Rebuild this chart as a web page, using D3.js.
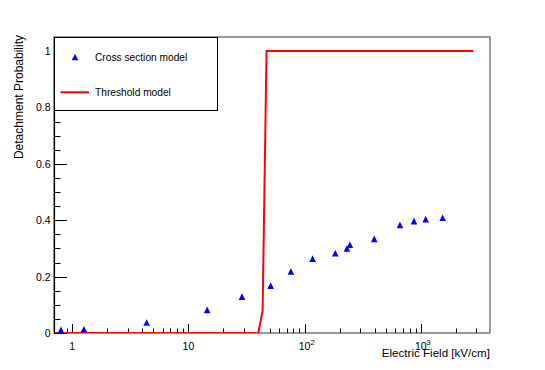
<!DOCTYPE html>
<html>
<head>
<meta charset="utf-8">
<script src="https://cdnjs.cloudflare.com/ajax/libs/d3/7.8.5/d3.min.js"></script>
<style>
  body { margin: 0; background: #fff; }
  text { font-family: "Liberation Sans", Arial, sans-serif; fill: #000; }
</style>
</head>
<body>
<div id="chart"></div>
<script>
// cross section model points (electric field in kV/cm, probability)
var crossField = [0.8, 1.26, 4.37, 14.5, 28.9, 51, 76.2, 117, 183.5, 231, 245, 397, 661, 873, 1100, 1540];
var crossProb  = [0.011, 0.0135, 0.037, 0.082, 0.129, 0.168, 0.218, 0.264, 0.283, 0.300, 0.313, 0.334, 0.383, 0.397, 0.404, 0.409];

// threshold model (step)
var thrField = [0.7, 40, 43.5, 47, 2830];
var thrProb  = [0, 0, 0.08, 1, 1];

var xMajor = [1, 10, 100, 1000];
var xLabels = [["1", ""], ["10", ""], ["10", "2"], ["10", "3"]];
var yMajor = [0, 0.2, 0.4, 0.6, 0.8, 1];
var yLabels = ["0", "0.2", "0.4", "0.6", "0.8", "1"];

var svgWidth = 545, svgHeight = 370;
var pLeft = 54, pRight = 490, pTop = 37, pBottom = 333;

var svg = d3.select('#chart')
    .append('svg')
    .attr('width', svgWidth)
    .attr('height', svgHeight);

var x = d3.scaleLog().domain([0.697, 3935]).range([pLeft, pRight]);
var y = d3.scaleLinear().domain([0, 1.05]).range([pBottom, pTop]);

svg.append('clipPath').attr('id', 'clip')
    .append('rect')
    .attr('x', pLeft).attr('y', pTop)
    .attr('width', pRight - pLeft).attr('height', pBottom - pTop);

// frame
svg.append('rect')
    .attr('x', pLeft).attr('y', pTop)
    .attr('width', pRight - pLeft).attr('height', pBottom - pTop)
    .attr('fill', 'none')
    .attr('stroke', '#7a7a7a')
    .attr('stroke-width', 1.5);

// x minor ticks 2..9 per decade
var xMinor = [];
[0.1, 1, 10, 100, 1000].forEach(function(d) {
    for (var k = 2; k <= 9; k++) {
        var v = d * k;
        if (v > x.domain()[0] && v < x.domain()[1]) xMinor.push(v);
    }
});

var ax = svg.append('g').attr('stroke', '#000').attr('stroke-width', 1);
ax.selectAll('.xminor').data(xMinor).enter().append('line')
    .attr('x1', function(d) { return Math.round(x(d)) + 0.5; })
    .attr('x2', function(d) { return Math.round(x(d)) + 0.5; })
    .attr('y1', pBottom).attr('y2', pBottom - 4.5);
ax.selectAll('.xmajor').data(xMajor).enter().append('line')
    .attr('x1', function(d) { return Math.round(x(d)) + 0.5; })
    .attr('x2', function(d) { return Math.round(x(d)) + 0.5; })
    .attr('y1', pBottom).attr('y2', pBottom - 9);

// y ticks
var yMinor = d3.range(0, 21).map(function(i) { return i * 0.05; })
    .filter(function(v) { return Math.abs((v * 5) - Math.round(v * 5)) > 1e-6; });
ax.selectAll('.yminor').data(yMinor).enter().append('line')
    .attr('x1', pLeft).attr('x2', pLeft + 6.5)
    .attr('y1', function(d) { return Math.round(y(d)) + 0.5; })
    .attr('y2', function(d) { return Math.round(y(d)) + 0.5; });
ax.selectAll('.ymajor').data(yMajor).enter().append('line')
    .attr('x1', pLeft).attr('x2', pLeft + 13)
    .attr('y1', function(d) { return Math.round(y(d)) + 0.5; })
    .attr('y2', function(d) { return Math.round(y(d)) + 0.5; });

// left axis line
svg.append('line')
    .attr('x1', pLeft + 0.5).attr('x2', pLeft + 0.5)
    .attr('y1', pTop).attr('y2', pBottom)
    .attr('stroke', '#000').attr('stroke-width', 1.2);

// tick labels
svg.selectAll('.ylab').data(yMajor).enter().append('text')
    .attr('x', pLeft - 3.5)
    .attr('y', function(d) { return y(d) + 4; })
    .attr('text-anchor', 'end')
    .attr('font-size', '10.5px')
    .text(function(d, i) { return yLabels[i]; });

var xl = svg.selectAll('.xlab').data(xMajor).enter().append('text')
    .attr('x', function(d, i) { return x(d) + (xLabels[i][1] ? 2 : 0); })
    .attr('y', 349.5)
    .attr('text-anchor', 'middle')
    .attr('font-size', '10.5px');
xl.append('tspan').text(function(d, i) { return xLabels[i][0]; });
xl.append('tspan')
    .attr('dy', -5)
    .attr('font-size', '7.5px')
    .text(function(d, i) { return xLabels[i][1]; });

// axis titles
svg.append('text')
    .attr('x', pRight)
    .attr('y', 357)
    .attr('text-anchor', 'end')
    .attr('font-size', '11.6px')
    .text('Electric Field [kV/cm]');

svg.append('text')
    .attr('transform', 'translate(22.5,' + (pTop - 2) + ') rotate(-90)')
    .attr('text-anchor', 'end')
    .attr('font-size', '12px')
    .text('Detachment Probability');

// threshold model line
var thr = thrField.map(function(f, i) { return [f, thrProb[i]]; });
svg.append('path')
    .datum(thr)
    .attr('clip-path', 'url(#clip)')
    .attr('fill', 'none')
    .attr('stroke', '#ff0000')
    .attr('stroke-width', 2)
    .attr('d', d3.line()
        .x(function(d) { return x(d[0]); })
        .y(function(d) { return y(d[1]); }));

// cross section markers
var tri = function(cx, cy, s) {
    return 'M' + (cx - s) + ',' + (cy + s) + 'L' + (cx + s) + ',' + (cy + s) + 'L' + cx + ',' + (cy - s) + 'Z';
};
svg.selectAll('.pt').data(crossField).enter().append('path')
    .attr('fill', '#0000ff')
    .attr('d', function(d, i) { return tri(x(d), y(crossProb[i]), 3.3); });

// legend
var lg = svg.append('g');
lg.append('rect')
    .attr('x', pLeft + 0.5).attr('y', pTop + 0.5)
    .attr('width', 217 - pLeft).attr('height', 110 - pTop)
    .attr('fill', '#fff')
    .attr('stroke', '#000')
    .attr('stroke-width', 1);
lg.append('path')
    .attr('fill', '#0000ff')
    .attr('d', tri(75, 57, 3.3));
lg.append('text')
    .attr('x', 95).attr('y', 60.5)
    .attr('font-size', '10.2px')
    .text('Cross section model');
lg.append('line')
    .attr('x1', 60.5).attr('x2', 89)
    .attr('y1', 92.3).attr('y2', 92.3)
    .attr('stroke', '#ff0000')
    .attr('stroke-width', 2);
lg.append('text')
    .attr('x', 95).attr('y', 96)
    .attr('font-size', '10.2px')
    .text('Threshold model');
</script>
</body>
</html>
